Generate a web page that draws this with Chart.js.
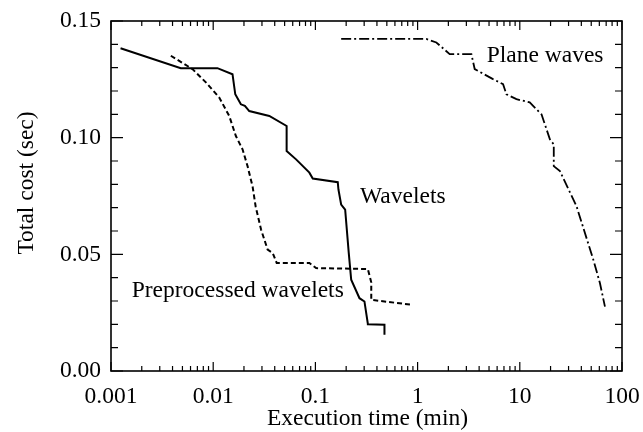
<!DOCTYPE html>
<html>
<head>
<meta charset="utf-8">
<script src="https://cdn.jsdelivr.net/npm/chart.js@4.4.1/dist/chart.umd.min.js"></script>
<style>
html,body{margin:0;padding:0;background:#fff;}
#wrap{width:643px;height:432px;position:relative;}
</style>
</head>
<body>
<div id="wrap"><canvas id="c" width="643" height="432"></canvas></div>
<script>
// ---- data ----
const waveletsX = [0.00124,0.00482,0.0110,0.01545,0.01644,0.01866,0.0204,0.02254,0.0354,0.0523,0.0523,0.0647,0.0873,0.0942,0.1655,0.168,0.1787,0.1955,0.212,0.224,0.270,0.302,0.326,0.326,0.474,0.474];
const waveletsY = [0.1383,0.1298,0.1298,0.1272,0.1186,0.1143,0.1136,0.1114,0.1093,0.1050,0.0943,0.0907,0.0850,0.0825,0.0809,0.0778,0.0713,0.0692,0.0506,0.0391,0.0312,0.0298,0.0202,0.0200,0.0198,0.0155];

const prepX = [0.00385,0.00627,0.00848,0.01146,0.01435,0.01667,0.01937,0.02168,0.0243,0.026,0.0294,0.0341,0.0382,0.0418,0.0873,0.1016,0.326,0.352,0.352,0.867];
const prepY = [0.1351,0.1294,0.1237,0.1172,0.1093,0.1007,0.0950,0.0878,0.0790,0.0706,0.0606,0.0520,0.0506,0.0463,0.0463,0.0441,0.0437,0.0380,0.0305,0.0284];

const planeX = [0.1787,1.216,1.525,2.06,3.36,3.62,5.47,6.86,7.40,9.27,12.5,16.3,19.7,21.5,21.5,24.7,35.9,52.4,60.8,68.1];
const planeY = [0.1423,0.1423,0.1408,0.1358,0.1358,0.1294,0.1251,0.1229,0.1186,0.1165,0.1151,0.1100,0.0993,0.0971,0.0878,0.0857,0.0706,0.0477,0.0377,0.0276];

const xTickValues = [0.001,0.01,0.1,1,10,100];
const xTickLabels = ['0.001','0.01','0.1','1','10','100'];
const yTickValues = [0,0.05,0.10,0.15];
const yTickLabels = ['0.00','0.05','0.10','0.15'];

const seriesLabels = ['Wavelets','Preprocessed wavelets','Plane waves'];
const annotX = [0.2732,0.001595,4.74];
const annotY = [0.0720,0.0318,0.1326];

const xTitle = 'Execution time (min)';
const yTitle = 'Total cost (sec)';

const FONT = "'Liberation Serif', 'Times New Roman', serif";
const FSIZE = 23.5;

function pts(xs, ys){ return xs.map((x,i)=>({x:x,y:ys[i]})); }

const framePlugin = {
  id:'frame',
  afterDatasetsDraw(chart){
    const ctx = chart.ctx, a = chart.chartArea;
    const xs = chart.scales.x, ys = chart.scales.y;
    ctx.save();
    ctx.strokeStyle = '#000';
    ctx.lineWidth = 1.6;
    ctx.strokeRect(a.left, a.top, a.right-a.left, a.bottom-a.top);
    ctx.lineWidth = 1.2;
    // x ticks (log), top and bottom, inward
    for (let d=0; d<xTickValues.length; d++){
      const base = xTickValues[d];
      for (let m=1; m<=9; m++){
        const v = base*m;
        if (v > xTickValues[xTickValues.length-1]*1.0001) break;
        const px = xs.getPixelForValue(v);
        const len = (m===1) ? 9 : 5;
        ctx.beginPath();
        ctx.moveTo(px, a.bottom); ctx.lineTo(px, a.bottom-len);
        ctx.moveTo(px, a.top); ctx.lineTo(px, a.top+len);
        ctx.stroke();
      }
    }
    // y ticks every 0.01, majors at 0.05
    for (let i=0; i<=15; i++){
      const v = i*0.01;
      const py = ys.getPixelForValue(v);
      const len = (i%5===0) ? 12 : 7;
      ctx.beginPath();
      ctx.moveTo(a.left, py); ctx.lineTo(a.left+len, py);
      ctx.moveTo(a.right, py); ctx.lineTo(a.right-len, py);
      ctx.stroke();
    }
    // series text labels (baseline-anchored)
    ctx.fillStyle = '#000';
    ctx.font = FSIZE + "px " + FONT;
    ctx.textAlign = 'left';
    ctx.textBaseline = 'alphabetic';
    for (let i=0;i<seriesLabels.length;i++){
      ctx.fillText(seriesLabels[i], xs.getPixelForValue(annotX[i]), ys.getPixelForValue(annotY[i]));
    }
    // axis titles
    ctx.textAlign = 'center';
    ctx.fillText(xTitle, (a.left+a.right)/2 + 1, 425);
    ctx.translate(33, 183);
    ctx.rotate(-Math.PI/2);
    ctx.fillText(yTitle, 0, 0);
    ctx.restore();
  }
};

new Chart(document.getElementById('c'), {
  type:'scatter',
  data:{
    datasets:[
      {label:seriesLabels[0], data:pts(waveletsX,waveletsY), showLine:true, borderColor:'#000', borderWidth:2, pointRadius:0, tension:0},
      {label:seriesLabels[1], data:pts(prepX,prepY), showLine:true, borderColor:'#000', borderWidth:2, borderDash:[5,3], pointRadius:0, tension:0},
      {label:seriesLabels[2], data:pts(planeX,planeY), showLine:true, borderColor:'#000', borderWidth:1.8, borderDash:[10,3,2,3], pointRadius:0, tension:0}
    ]
  },
  options:{
    responsive:false,
    animation:false,
    devicePixelRatio:1,
    layout:{padding:{left:0,top:21,right:21,bottom:0}},
    plugins:{legend:{display:false}, tooltip:{enabled:false}},
    scales:{
      x:{
        type:'logarithmic', position:'bottom', min:0.001, max:100,
        grid:{display:false, drawTicks:false},
        border:{display:false},
        afterBuildTicks(s){ s.ticks = xTickValues.map(v=>({value:v})); },
        afterFit(s){ s.height = 61; s.paddingLeft = 0; s.paddingRight = 0; },
        ticks:{
          autoSkip:false, maxRotation:0, padding:12, color:'#000',
          font:{family:FONT, size:FSIZE},
          callback(v){ const i = xTickValues.findIndex(t=>Math.abs(t-v)/t<1e-6); return i>=0 ? xTickLabels[i] : ''; }
        },
        title:{display:false}
      },
      y:{
        type:'linear', min:0, max:0.15,
        grid:{display:false, drawTicks:false},
        border:{display:false},
        afterBuildTicks(s){ s.ticks = yTickValues.map(v=>({value:v})); },
        afterFit(s){ s.width = 111; s.paddingTop = 0; s.paddingBottom = 0; },
        ticks:{
          padding:10, color:'#000',
          font:{family:FONT, size:FSIZE},
          callback(v){ const i = yTickValues.findIndex(t=>Math.abs(t-v)<1e-9); return i>=0 ? yTickLabels[i] : ''; }
        },
        title:{display:false}
      }
    }
  },
  plugins:[framePlugin]
});
</script>
</body>
</html>
